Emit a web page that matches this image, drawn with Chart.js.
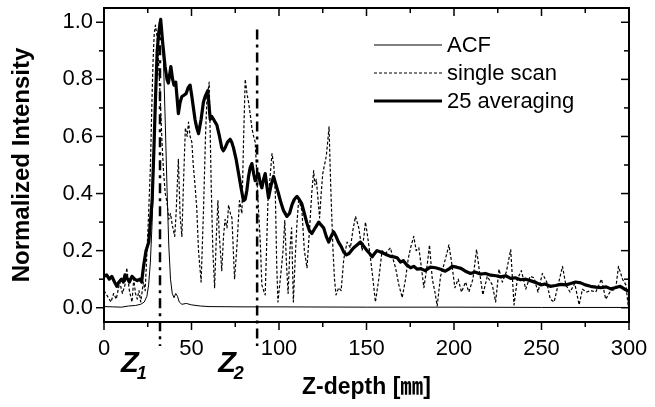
<!DOCTYPE html>
<html><head><meta charset="utf-8">
<script src="https://cdn.jsdelivr.net/npm/chart.js@4.4.1/dist/chart.umd.min.js"></script>
<style>html,body{margin:0;padding:0;background:#fff;}canvas{display:block}</style>
</head><body>
<canvas id="c" width="655" height="407"></canvas>
<script>
// ---- data ----
const seriesLabels = ['ACF', 'single scan', '25 averaging'];

const acfX = [0,5,10,14,18,21,23,24.5,25.5,26.5,27.5,28.5,29.5,30.5,31.5,32.3,33,34,35,36,37,38,39,40,41,42,43,44.5,47,50,55,60,80,100,150,200,250,300];
const acfY = [0.004,0.003,0.002,0.006,0.008,0.012,0.02,0.04,0.08,0.16,0.3,0.5,0.7,0.88,0.98,1.0,0.97,0.86,0.65,0.42,0.22,0.1,0.05,0.035,0.05,0.04,0.02,0.012,0.015,0.01,0.006,0.004,0.003,0.003,0.002,0.002,0.001,0.001];

const singleX = [0,2,4,5.5,7,9,10.5,12,13,14.5,16,17,18,19,20,21,22.5,23.5,24.6,25.5,26.5,27.3,28,28.7,29.4,30.3,31,32,33,34,35,36,37,38,39,40.4,41.2,42.5,43.5,44.5,45.5,46.5,47.5,48.3,49.2,50.2,51,52,53,54,55.5,56.9,58,58.8,60.1,61.3,62.2,63.2,64.2,65.1,65.8,67.3,68.3,69.2,70.3,71.2,72.2,73.1,74.6,75.9,77.4,78.8,79.8,80.7,81.7,82.6,83.5,84.5,85.5,86.4,87.2,88,89.3,90.2,91.2,92.1,93.7,94.8,96,97,97.9,98.7,99.4,100.4,101.4,102.3,103.3,104.3,105.2,106.2,107.2,108.2,109.3,110.3,111.2,112.2,113.1,114.5,116,117.5,118.7,119.8,120.5,121.3,122.3,123.2,124.1,125,126,127,127.8,128.6,129.2,129.7,130.8,131.7,132.6,134.1,135.5,137,138.9,140.8,142.2,143.7,145.6,147.5,148.5,149.4,150.4,151.3,153.2,155.1,157,158.9,160.8,162.2,163.7,165.2,166.6,168.5,170.4,172.3,173.8,175.2,177,178.4,179.9,181.4,182.8,184.7,186,187.6,189.1,190.4,192.3,194.2,196.1,197.1,198.6,200.5,202.4,204.3,206.6,208.5,210.8,212.9,214.6,216.5,219,221.9,223.8,225.7,227.6,229.9,232.4,234.3,236.2,238.5,241,243.5,245.7,248,250.5,253,255,257.2,259.5,262,263.9,266.3,269,271.5,273.4,275.9,278.1,281,284.3,286.7,289.6,292.4,294,296.3,298.2,299.5,300];
const singleY = [0.06,0.04,0.02,0.05,0.03,0.09,0.05,0.08,0.14,0.06,0.02,0.1,0.05,0.03,0.06,0.02,0.09,0.06,0.2,0.33,0.49,0.7,0.86,0.96,0.99,0.95,0.88,0.75,0.6,0.48,0.4,0.37,0.31,0.33,0.29,0.25,0.33,0.52,0.32,0.25,0.45,0.63,0.6,0.65,0.6,0.58,0.5,0.43,0.35,0.2,0.09,0.35,0.6,0.73,0.79,0.42,0.2,0.07,0.25,0.375,0.26,0.13,0.25,0.31,0.28,0.36,0.33,0.315,0.1,0.21,0.375,0.33,0.6,0.8,0.75,0.72,0.68,0.63,0.6,0.58,0.48,0.375,0.23,0.08,0.06,0.045,0.375,0.45,0.54,0.5,0.4,0.15,0.02,0.08,0.14,0.2,0.305,0.15,0.05,0.2,0.28,0.02,0.18,0.3,0.375,0.36,0.34,0.2,0.14,0.28,0.4,0.48,0.43,0.45,0.38,0.315,0.4,0.47,0.5,0.53,0.58,0.634,0.5,0.4,0.21,0.1,0.045,0.07,0.06,0.17,0.23,0.21,0.27,0.32,0.28,0.2,0.25,0.3,0.26,0.22,0.127,0.02,0.1,0.2,0.19,0.2,0.21,0.17,0.14,0.08,0.035,0.1,0.17,0.21,0.25,0.2,0.21,0.14,0.07,0.15,0.22,0.1,0.055,0.006,0.11,0.15,0.195,0.22,0.16,0.07,0.1,0.055,0.09,0.055,0.1,0.204,0.125,0.045,0.11,0.08,0.02,0.135,0.09,0.125,0.204,0.01,0.1,0.13,0.065,0.11,0.105,0.055,0.12,0.09,0.03,0.02,0.08,0.145,0.08,0.055,0.085,0.01,0.065,0.055,0.06,0.055,0.1,0.03,0.06,0.065,0.145,0.1,0.08,0.01,0.08];

const avgX = [0,1.5,3,4.5,6,7.3,8.5,10,11,12,13.5,14.5,16,17.5,19,20.5,21.5,22.7,24,25.6,26.5,27.5,28.5,29.4,30.4,31.3,32.4,33.5,34.9,36,36.8,38.2,39.2,40,41,42.5,43.5,44.5,45.8,46.9,48,49.2,50.2,51.1,52,53,54,55.5,56.8,57.8,59.3,60.7,61.6,62.6,63.5,64.5,66,67.3,68.2,69.2,70.6,72.1,73,74,75.5,76.9,78.3,79.7,80.7,81.6,82.6,83.5,84.5,85.5,86.4,87.4,88.3,89.2,90.2,91.2,92.1,93,94,95.5,96.9,98.3,99.7,101,102.6,104.5,106,107.4,108.8,110.3,111.5,113,114.5,116,117.4,118.8,120.7,122.7,124,125.5,127,128.4,129.8,131.2,132.6,134,135.5,137,138.5,140,141.3,142.7,144.6,146.5,148.4,150.3,151.8,153.2,154.6,156,158,160,161.8,163.7,165.6,167.5,169.4,171,173,175.2,177,179,181,183.5,186.5,189.5,192.3,195,197,199,201.5,204,206.5,209.5,212,215,218,221,224,226.7,229.5,232.4,235,238,241,244,247,249.6,252,255,258,261,264,266.7,269.5,272.4,275,278,281,284,287,289.6,292,295,297.5,300];
const avgY = [0.11,0.115,0.1,0.11,0.09,0.075,0.09,0.1,0.09,0.115,0.1,0.09,0.11,0.1,0.095,0.1,0.09,0.15,0.2,0.23,0.3,0.375,0.55,0.73,0.9,0.965,1.01,0.93,0.845,0.8,0.787,0.845,0.8,0.78,0.79,0.68,0.72,0.74,0.745,0.75,0.77,0.78,0.74,0.7,0.66,0.63,0.61,0.66,0.72,0.74,0.76,0.66,0.67,0.66,0.65,0.64,0.6,0.56,0.55,0.56,0.58,0.59,0.58,0.56,0.52,0.47,0.42,0.375,0.38,0.41,0.46,0.49,0.505,0.47,0.445,0.46,0.47,0.44,0.42,0.45,0.47,0.43,0.385,0.43,0.46,0.43,0.4,0.37,0.34,0.32,0.33,0.36,0.38,0.39,0.38,0.365,0.33,0.295,0.27,0.26,0.28,0.3,0.29,0.28,0.25,0.23,0.25,0.266,0.25,0.23,0.215,0.195,0.185,0.19,0.2,0.21,0.22,0.23,0.215,0.2,0.19,0.178,0.19,0.2,0.195,0.19,0.185,0.18,0.178,0.175,0.16,0.165,0.15,0.14,0.145,0.135,0.137,0.13,0.142,0.14,0.135,0.128,0.135,0.145,0.142,0.138,0.128,0.12,0.125,0.118,0.12,0.114,0.112,0.108,0.112,0.103,0.105,0.098,0.1,0.094,0.088,0.08,0.083,0.075,0.078,0.082,0.08,0.085,0.09,0.087,0.08,0.075,0.072,0.07,0.073,0.066,0.07,0.075,0.065,0.058];

// Z markers (x values of the dash-dot reference lines) and their upper ends
const zMarkers = [32, 87.5];
const zMarkerTops = [1.0, 0.975];
const zNames = ['1', '2'];

// ---- chart ----
const FONT = '"Liberation Sans", Arial, Helvetica, "Noto Sans CJK SC", sans-serif';
const zip = (xs, ys) => xs.map((v, i) => ({x: v, y: ys[i]}));

const decor = {
  id: 'decor',
  afterDatasetsDraw(chart) {
    const {ctx, chartArea: a, scales: {x, y}} = chart;
    ctx.save();
    ctx.strokeStyle = '#000';
    ctx.fillStyle = '#000';
    // Z dash-dot lines
    ctx.lineWidth = 2.5;
    ctx.setLineDash([10, 5, 3, 5]);
    zMarkers.forEach((zv, i) => {
      const px = x.getPixelForValue(zv);
      ctx.beginPath();
      ctx.moveTo(px, y.getPixelForValue(zMarkerTops[i]));
      ctx.lineTo(px, a.bottom + 24);
      ctx.stroke();
    });
    ctx.setLineDash([]);
    // frame
    ctx.lineWidth = 2;
    ctx.strokeRect(a.left, a.top, a.right - a.left, a.bottom - a.top);
    // ticks (major + minor), outward on left/bottom, inward on top/right
    ctx.lineWidth = 1.5;
    const xt = x.ticks.map(t => t.value);
    const yt = y.ticks.map(t => t.value);
    const xMinor = xt.slice(0, -1).map((v, i) => (v + xt[i + 1]) / 2);
    const yMinor = yt.slice(0, -1).map((v, i) => (v + yt[i + 1]) / 2);
    const seg = (x1, y1, x2, y2) => { ctx.beginPath(); ctx.moveTo(x1, y1); ctx.lineTo(x2, y2); ctx.stroke(); };
    const drawX = (vals, len) => vals.forEach(v => {
      const px = x.getPixelForValue(v);
      seg(px, a.bottom, px, a.bottom + len);
      seg(px, a.top, px, a.top + len);
    });
    const drawY = (vals, len) => vals.forEach(v => {
      const py = y.getPixelForValue(v);
      seg(a.left, py, a.left - len, py);
      seg(a.right, py, a.right - len, py);
    });
    drawX(xt, 8); drawX(xMinor, 5);
    drawY(yt, 8); drawY(yMinor, 5);
    // Z labels
    zMarkers.forEach((zv, i) => {
      const px = x.getPixelForValue(zv);
      ctx.textBaseline = 'alphabetic';
      ctx.textAlign = 'left';
      ctx.font = 'italic bold 29px ' + FONT;
      ctx.fillText('Z', px - 39, a.bottom + 50);
      const w = ctx.measureText('Z').width;
      ctx.font = 'italic bold 18px ' + FONT;
      ctx.fillText(zNames[i], px - 39 + w - 2, a.bottom + 57);
    });
    // legend
    const rows = [45, 73, 101];
    chart.data.datasets.forEach((ds, i) => {
      ctx.lineWidth = ds.borderWidth;
      ctx.setLineDash(ds.borderDash || []);
      seg(374, rows[i], 442, rows[i]);
      ctx.setLineDash([]);
      ctx.font = '22px ' + FONT;
      ctx.textBaseline = 'middle';
      ctx.textAlign = 'left';
      ctx.fillText(ds.label, 447, rows[i] + 1);
    });
    ctx.restore();
  }
};

new Chart(document.getElementById('c'), {
  type: 'line',
  data: {
    datasets: [
      {label: seriesLabels[0], data: zip(acfX, acfY), borderColor: '#000', borderWidth: 1, order: 1},
      {label: seriesLabels[1], data: zip(singleX, singleY), borderColor: '#000', borderWidth: 1.2, borderDash: [3, 2], order: 2},
      {label: seriesLabels[2], data: zip(avgX, avgY), borderColor: '#000', borderWidth: 3.2, order: 0}
    ]
  },
  options: {
    responsive: false,
    animation: false,
    devicePixelRatio: 1,
    layout: {padding: {top: 8, right: 26, left: 0, bottom: 0}},
    elements: {point: {radius: 0}, line: {tension: 0, borderJoinStyle: 'round'}},
    plugins: {legend: {display: false}, tooltip: {enabled: false}},
    scales: {
      x: {
        type: 'linear', min: 0, max: 300,
        grid: {display: false, drawTicks: false}, border: {display: false},
        ticks: {stepSize: 50, color: '#000', font: {family: FONT, size: 22}, padding: 14, maxRotation: 0},
        title: {display: true, text: 'Z-depth [㎜]', color: '#000', font: {family: FONT, size: 23, weight: 'bold'}, padding: {top: 0, bottom: 6}},
        afterFit(s) { s.height = 85; s.paddingLeft = 0; s.paddingRight = 0; }
      },
      y: {
        type: 'linear', min: -0.05, max: 1.05,
        grid: {display: false, drawTicks: false}, border: {display: false},
        ticks: {stepSize: 0.2, includeBounds: false, color: '#000', font: {family: FONT, size: 22}, padding: 11, callback: v => v.toFixed(1)},
        title: {display: true, text: 'Normalized Intensity', color: '#000', font: {family: FONT, size: 24, weight: 'bold'}, padding: {top: 8, bottom: 0}},
        afterFit(s) { s.width = 104; s.paddingTop = 0; s.paddingBottom = 0; }
      }
    }
  },
  plugins: [decor]
});
</script>
</body></html>
